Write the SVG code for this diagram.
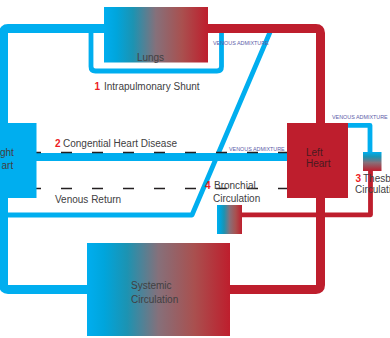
<svg xmlns="http://www.w3.org/2000/svg" width="390" height="338" viewBox="0 0 390 338">
<style>
.pipe{fill:none;stroke-linejoin:round}
.b{stroke:#00AEEF}
.r{stroke:#BE1E2D}
.w9{stroke-width:9}
.w8{stroke-width:8}
.w5{stroke-width:4.8}
.dash{fill:none;stroke:#231F20;stroke-width:1.6;stroke-dasharray:11 20;stroke-dashoffset:6}
text{font-family:"Liberation Sans",Arial,sans-serif;font-size:10px;fill:#414042}
.n{fill:#ED1C24;font-weight:bold}
.va{font-size:5.4px;fill:#5C5CA8}
.hl{fill:#4A1A20}
</style>
<defs>
<linearGradient id="gh" x1="0" y1="0" x2="1" y2="0">
<stop offset="0" stop-color="#00AEEF"/>
<stop offset="0.12" stop-color="#00A5DC"/>
<stop offset="0.28" stop-color="#1C93B2"/>
<stop offset="0.5" stop-color="#86707A"/>
<stop offset="0.75" stop-color="#A9504F"/>
<stop offset="1" stop-color="#BE1E2D"/>
</linearGradient>
<linearGradient id="gv" x1="0" y1="0" x2="0" y2="1">
<stop offset="0" stop-color="#00AEEF"/>
<stop offset="0.25" stop-color="#1C93B2"/>
<stop offset="0.55" stop-color="#86707A"/>
<stop offset="1" stop-color="#BE1E2D"/>
</linearGradient>
</defs>
<rect width="390" height="338" fill="#FFFFFF"/>
<g id="connectors">
<path class="pipe b w5" d="M91 32 V66.5 Q91 71 95.5 71 H217 Q221.5 71 221.5 66.5 V31"/>
<path class="pipe b w5" d="M270.5 31 L192 215 H3"/>
<path class="pipe b w9" d="M104 28.5 H8 Q3.5 28.5 3.5 33 V285 Q3.5 289.5 8 289.5 H87"/>
<path class="pipe r w9" d="M208 28.5 H316 Q320.5 28.5 320.5 33 V285 Q320.5 289.5 316 289.5 H230"/>
<path class="pipe b w8" d="M36 157 H287"/>
<path class="dash" d="M36 152.5 H287"/>
<path class="dash" d="M36 188.5 H287"/>
<path class="pipe b w5" d="M348 125.3 H370 V152"/>
<path class="pipe r w5" d="M242 214.8 H370.5 V171"/>
</g>
<g id="lungs">
<rect x="104" y="7" width="104" height="55.5" fill="url(#gh)"/>
<text x="150.5" y="61" text-anchor="middle">Lungs</text>
</g>
<g id="right-heart">
<rect x="0" y="123" width="36.5" height="75" fill="#00AEEF"/>
<text x="0" y="156">ght</text>
<text x="1.5" y="168.5">art</text>
</g>
<g id="left-heart">
<rect x="287" y="123" width="61" height="75" fill="#BE1E2D"/>
<text class="hl" x="306" y="155.5">Left</text>
<text class="hl" x="306" y="167">Heart</text>
</g>
<g id="systemic">
<rect x="87" y="243" width="143" height="93" fill="url(#gh)"/>
<text x="131" y="288.5">Systemic</text>
<text x="131" y="302.5">Circulation</text>
</g>
<g id="bronchial">
<rect x="217" y="205" width="25" height="29" fill="url(#gh)"/>
</g>
<g id="thebesian">
<rect x="363" y="152" width="18.5" height="19" fill="url(#gv)"/>
</g>
<g id="labels">
<text class="n" x="94.5" y="89.5">1</text>
<text x="104" y="89.5">Intrapulmonary Shunt</text>
<text class="n" x="55" y="147">2</text>
<text x="63" y="147">Congential Heart Disease</text>
<text x="55" y="203">Venous Return</text>
<text class="n" x="205" y="188.5">4</text>
<text x="214" y="188.5">Bronchial</text>
<text x="213" y="202">Circulation</text>
<text class="n" x="355.5" y="181.5">3</text>
<text x="363" y="181.5">Thesb</text>
<text x="355" y="193">Circulati</text>
<text class="va" x="213" y="45">VENOUS ADMIXTURE</text>
<text class="va" x="332" y="119">VENOUS ADMIXTURE</text>
<text class="va" x="229" y="151">VENOUS ADMIXTURE</text>
</g>
</svg>
